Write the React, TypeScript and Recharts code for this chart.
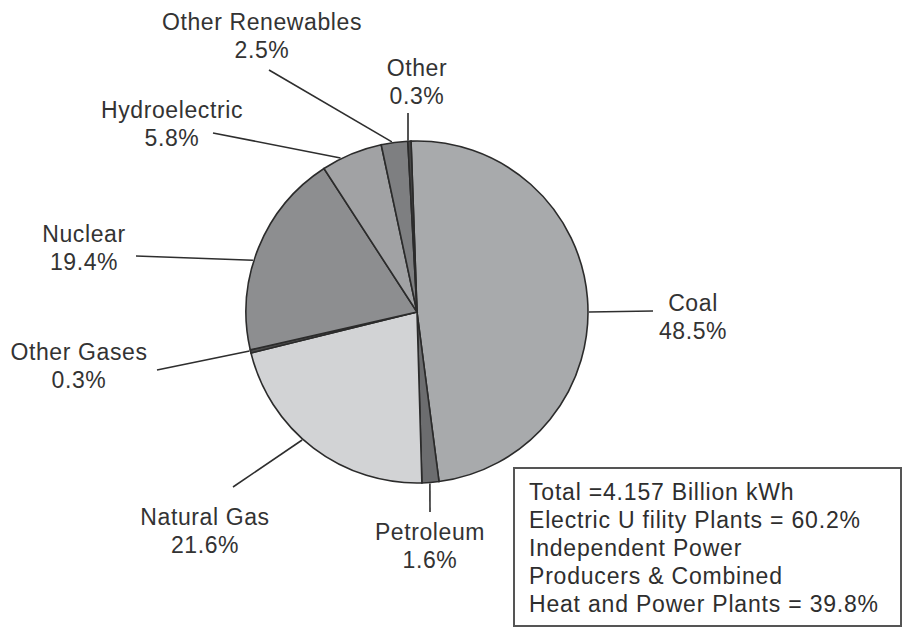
import { PieChart, Pie, Cell } from "recharts";

// electricity generation by source, percent
const sources = [
  "Coal",
  "Petroleum",
  "Natural Gas",
  "Other Gases",
  "Nuclear",
  "Hydroelectric",
  "Other Renewables",
  "Other",
];
const shares = [48.5, 1.6, 21.6, 0.3, 19.4, 5.8, 2.5, 0.3];

const noteLines = [
  "Total =4.157 Billion kWh",
  "Electric U fility Plants = 60.2%",
  "Independent Power",
  "Producers & Combined",
  "Heat and Power Plants = 39.8%",
];

const fills: Record<string, string> = {
  Coal: "#a8aaac",
  Petroleum: "#6c6d6f",
  "Natural Gas": "#d2d3d5",
  "Other Gases": "#4a4a4a",
  Nuclear: "#8d8e90",
  Hydroelectric: "#a1a2a4",
  "Other Renewables": "#7e7f81",
  Other: "#4a4a4a",
};

// label placement: text centre (first line), leader start, leader end angle on rim
const labelLayout: Record<
  string,
  { tx: number; ty: number; lx: number; ly: number; ang: number }
> = {
  Coal: { tx: 693, ty: 303, lx: 653, ly: 311, ang: 0 },
  Petroleum: { tx: 430, ty: 532, lx: 430, ly: 512, ang: -85.7 },
  "Natural Gas": { tx: 205, ty: 517, lx: 233, ly: 487, ang: -131.9 },
  "Other Gases": { tx: 79, ty: 352, lx: 157, ly: 370, ang: -166.9 },
  Nuclear: { tx: 84, ty: 234, lx: 136, ly: 256, ang: 162.5 },
  Hydroelectric: { tx: 172, ty: 110, lx: 213, ly: 133, ang: 116.4 },
  "Other Renewables": { tx: 262, ty: 22, lx: 269, ly: 70, ang: 98.4 },
  Other: { tx: 417, ty: 68, lx: 408, ly: 113, ang: 93 },
};

const data = sources.map((name, i) => ({ name, value: shares[i] }));

const FONT = "'Liberation Sans', Arial, Helvetica, sans-serif";

function renderLabel(props: any) {
  const { cx, cy, outerRadius, payload } = props;
  const name = payload.name;
  const l = labelLayout[name];
  if (!l) return null;
  const rad = (l.ang * Math.PI) / 180;
  const ex = cx + (outerRadius + 1) * Math.cos(rad);
  const ey = cy - (outerRadius + 1) * Math.sin(rad);
  return (
    <g key={name}>
      <line x1={l.lx} y1={l.ly} x2={ex} y2={ey} stroke="#2e2e2e" strokeWidth={1.6} />
      <text
        x={l.tx}
        y={l.ty}
        textAnchor="middle"
        dominantBaseline="central"
        fontFamily={FONT}
        fontSize={23}
        letterSpacing={0.6}
        fill="#333"
      >
        {name}
      </text>
      <text
        x={l.tx}
        y={l.ty + 28}
        textAnchor="middle"
        dominantBaseline="central"
        fontFamily={FONT}
        fontSize={23}
        letterSpacing={0.6}
        fill="#333"
      >
        {payload.value.toFixed(1)}%
      </text>
    </g>
  );
}

export default function App() {
  return (
    <div style={{ position: "absolute", left: 0, top: 0, width: 903, height: 633, background: "#fff" }}>
      <PieChart width={903} height={633} margin={{ top: 0, right: 0, bottom: 0, left: 0 }}>
        <Pie
          data={data}
          dataKey="value"
          nameKey="name"
          cx={417}
          cy={312}
          outerRadius={171}
          startAngle={92}
          endAngle={-268}
          stroke="#2b2b2b"
          strokeWidth={1.6}
          label={renderLabel}
          labelLine={false}
          isAnimationActive={false}
        >
          {data.map((d) => (
            <Cell key={d.name} fill={fills[d.name]} />
          ))}
        </Pie>
      </PieChart>
      <div
        style={{
          position: "absolute",
          left: 513,
          top: 467,
          width: 389,
          height: 160,
          border: "2px solid #555",
          paddingLeft: 14,
          paddingTop: 9,
          boxSizing: "border-box",
          fontFamily: FONT,
          fontSize: 23,
          letterSpacing: 0.8,
          lineHeight: "28px",
          color: "#2e2e2e",
          whiteSpace: "nowrap",
        }}
      >
        {noteLines.map((t) => (
          <div key={t}>{t}</div>
        ))}
      </div>
    </div>
  );
}
